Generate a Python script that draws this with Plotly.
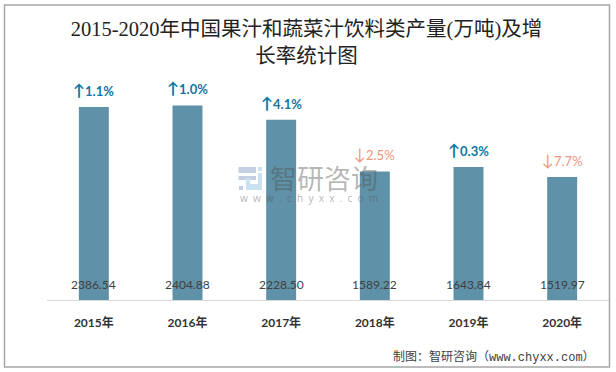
import plotly.graph_objects as go

years = ["2015年", "2016年", "2017年", "2018年", "2019年", "2020年"]
output = [2386.54, 2404.88, 2228.50, 1589.22, 1643.84, 1519.97]
growth = ["↑1.1%", "↑1.0%", "↑4.1%", "↓2.5%", "↑0.3%", "↓7.7%"]
title_text = "2015-2020年中国果汁和蔬菜汁饮料类产量(万吨)及增<br>长率统计图"
source = "制图：智研咨询（www.chyxx.com）"

UP, DOWN = "#0f76a3", "#f0957c"
SANS = "Lato, DejaVu Sans, Noto Sans CJK SC"
SERIF = "Liberation Serif, Noto Sans CJK SC"
L, R, T, B = 47, 609, 60, 300
PW, PH = R - L, B - T
def px(x): return (x - L) / PW
def py(y): return (B - y) / PH

fig = go.Figure(go.Bar(
    x=years, y=output, width=0.32,
    marker=dict(color="#5f91a8", line=dict(width=0)),
    hoverinfo="skip",
))
for y, v, g in zip(years, output, growth):
    up = g[0] == "↑"
    body = f'<span style="font-size:16px">{g[0]}</span>{g[1:]}'
    fig.add_annotation(x=y, y=v, text=f"<b>{body}</b>" if up else body, showarrow=False, yanchor="bottom", yshift=6,
                       font=dict(family=SANS, size=13, color=UP if up else DOWN))
    fig.add_annotation(x=y, y=0, text=f"{v:.2f}", showarrow=False, yanchor="bottom", yshift=6,
                       font=dict(family=SANS, size=12, color="#404040"))

LAV, SKY = "#c5cfe3", "#c8e2f2"
logo = [(238.5, 167, 256, 173, LAV), (238.5, 176, 256, 180, LAV), (239, 186, 243, 190, LAV),
        (258, 167, 262, 171, SKY), (258, 173, 262, 190, SKY), (246, 184, 262, 190, SKY), (246, 178, 250, 190, SKY)]
shapes = [dict(type="rect", xref="paper", yref="paper", layer="above",
               x0=px(4.5), x1=px(609.5), y0=py(367), y1=py(5),
               line=dict(color="#a6a6a6", width=1.5))]
shapes += [dict(type="rect", xref="paper", yref="paper", layer="above", x0=px(a), x1=px(c), y0=py(d), y1=py(b),
                fillcolor=col, line=dict(width=0)) for a, b, c, d, col in logo]

fig.update_layout(
    width=616, height=372, margin=dict(l=L, r=616 - R, t=T, b=372 - B),
    paper_bgcolor="white", plot_bgcolor="white", showlegend=False,
    title=dict(text=title_text, x=306.5 / 616, xanchor="center", y=1 - 36 / 372, yanchor="top",
               font=dict(family=SERIF, size=20.5, color="#222222")),
    xaxis=dict(showline=True, linecolor="#d9d9d9", linewidth=1, ticks="", ticklabelstandoff=12,
               tickfont=dict(family=SANS, size=12, color="#333333", weight="bold")),
    yaxis=dict(visible=False, range=[0, 2967]),
    shapes=shapes,
)
fig.add_annotation(xref="paper", yref="paper", x=px(597), y=py(357), xanchor="right", yanchor="middle", showarrow=False,
                   text=source, font=dict(family="Liberation Mono, Noto Sans CJK SC", size=12, color="#404040"))
fig.add_annotation(xref="paper", yref="paper", x=px(324), y=py(177), showarrow=False, text="智研咨询",
                   font=dict(family="Noto Sans CJK SC", size=27, color="rgba(80,80,80,0.42)"))
fig.add_annotation(xref="paper", yref="paper", x=px(309), y=py(198), showarrow=False, text="w  w  w  .  c  h  y  x  x  .  c  o  m",
                   font=dict(family="Noto Sans", size=10, color="rgba(80,80,80,0.42)"))
fig.write_html("out.html", post_script="document.body.style.margin='0';", config=dict(displayModeBar=False))
